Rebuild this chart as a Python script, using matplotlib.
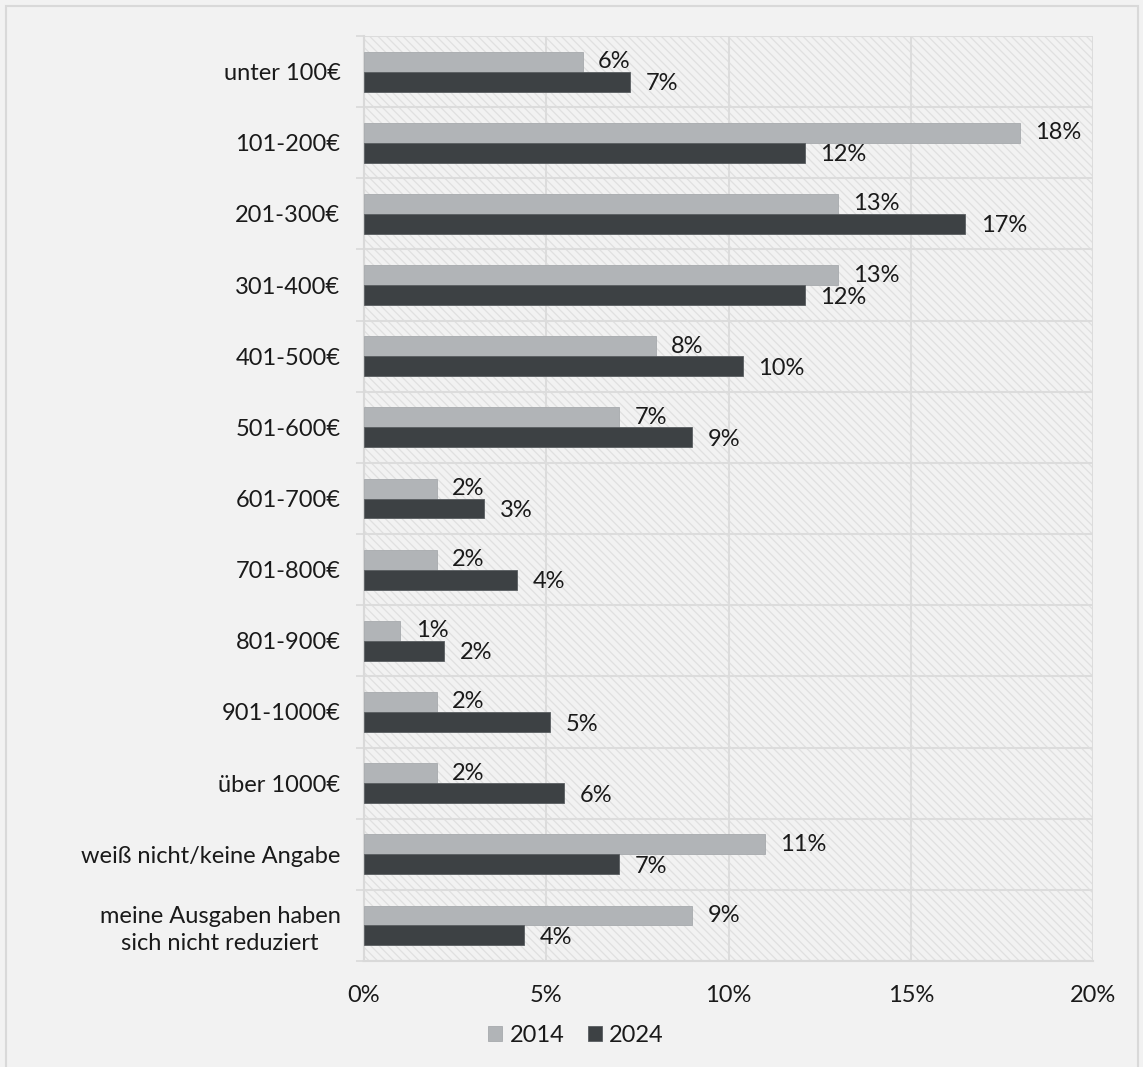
import matplotlib
matplotlib.use("Agg")
import matplotlib.pyplot as plt
from matplotlib.patches import Rectangle
import numpy as np

categories = ["unter 100€", "101-200€", "201-300€", "301-400€", "401-500€",
              "501-600€", "601-700€", "701-800€", "801-900€", "901-1000€",
              "über 1000€", "weiß nicht/keine Angabe",
              "meine Ausgaben haben\nsich nicht reduziert"]
values_2014 = [6.0, 18.0, 13.0, 13.0, 8.0, 7.0, 2.0, 2.0, 1.0, 2.0, 2.0, 11.0, 9.0]
values_2024 = [7.3, 12.1, 16.5, 12.1, 10.4, 9.0, 3.3, 4.2, 2.2, 5.1, 5.5, 7.0, 4.4]
labels_2014 = ["6%", "18%", "13%", "13%", "8%", "7%", "2%", "2%", "1%", "2%", "2%", "11%", "9%"]
labels_2024 = ["7%", "12%", "17%", "12%", "10%", "9%", "3%", "4%", "2%", "5%", "6%", "7%", "4%"]
series_names = ["2014", "2024"]
xticks = [0, 5, 10, 15, 20]
xtick_labels = ["0%", "5%", "10%", "15%", "20%"]

plt.rcParams['font.family'] = ['Lato', 'DejaVu Sans']
plt.rcParams['hatch.color'] = '#e0e0e0'
plt.rcParams['hatch.linewidth'] = 0.9

FS = 17
TC = '#1a1a1a'

W, H = 1143, 1067
fig = plt.figure(figsize=(W / 100, H / 100), dpi=100)
fig.patch.set_facecolor('#f2f2f2')
fig.patches.append(Rectangle((6 / W, -0.01), (1138 - 6) / W, 1.01 - 6 / H,
                             transform=fig.transFigure, facecolor='none',
                             edgecolor='#d9d9d9', linewidth=1.5, zorder=0))

ax = fig.add_axes([364 / W, 1 - 961 / H, (1093 - 364) / W, (961 - 36) / H])
ax.set_facecolor('#f2f2f2')
ax.add_patch(Rectangle((0, 0), 1, 1, transform=ax.transAxes, facecolor='none',
                       edgecolor='#e0e0e0', hatch='\\\\\\\\', linewidth=0, zorder=0))

n = len(categories)
y = np.arange(n)
h = 0.28
c14 = '#b1b4b7'
c24 = '#3d4144'
ax.barh(y - h / 2, values_2014, height=h, color=c14, edgecolor='#a7aaad', linewidth=0.6,
        label=series_names[0], zorder=3)
ax.barh(y + h / 2, values_2024, height=h, color=c24, edgecolor='#5a5e61', linewidth=0.6,
        label=series_names[1], zorder=3)

for i in range(n):
    ax.text(values_2014[i] + 0.42, y[i] - h / 2, labels_2014[i], va='center', ha='left',
            fontsize=FS, color=TC, zorder=4)
    ax.text(values_2024[i] + 0.42, y[i] + h / 2 + 0.03, labels_2024[i], va='center', ha='left',
            fontsize=FS, color=TC, zorder=4)

ax.set_xlim(0, 20)
ax.set_ylim(n - 0.5, -0.5)
ax.set_xticks(xticks)
ax.set_xticklabels(xtick_labels)
ax.set_yticks(y)
ax.set_yticklabels(categories, linespacing=1.3)
ax.set_yticks(np.arange(n + 1) - 0.5, minor=True)

ax.tick_params(axis='x', which='both', length=0, pad=17, labelsize=FS, labelcolor=TC)
ax.tick_params(axis='y', which='major', length=0, pad=17, labelsize=FS, labelcolor=TC)
ax.tick_params(axis='y', which='minor', length=6, width=1.2, color='#d9d9d9')
ax.get_yticklabels()[-1].set_multialignment('center')

ax.grid(axis='x', which='major', color='#dcdcdc', linewidth=1.5, zorder=1)
ax.grid(axis='y', which='minor', color='#dcdcdc', linewidth=1.5, zorder=1)
ax.grid(axis='y', which='major', visible=False)
ax.set_axisbelow(True)

for s in ['top', 'right']:
    ax.spines[s].set_visible(False)
for s in ['left', 'bottom']:
    ax.spines[s].set_color('#d9d9d9')
    ax.spines[s].set_linewidth(1.5)

fig.legend(loc='center', bbox_to_anchor=(576 / W, 1 - 1035 / H), ncol=2, frameon=False,
           fontsize=FS, handlelength=0.6, handleheight=0.6, handletextpad=0.3,
           columnspacing=1.0, labelcolor=TC)

fig.savefig('out.png', dpi=100, facecolor=fig.get_facecolor())
